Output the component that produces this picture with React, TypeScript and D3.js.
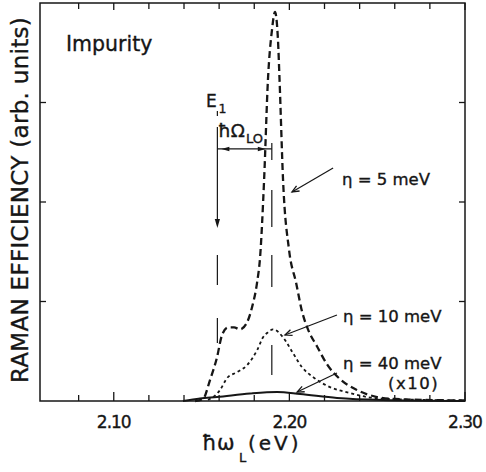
import React from "react";
import * as d3 from "d3";

// ---- data (photon energy in eV, Raman efficiency in arb. units) ----
const eta5X = [2.1463, 2.1508, 2.1548, 2.1588, 2.1616, 2.1651, 2.1685, 2.1719, 2.1759, 2.1787, 2.1816, 2.1833, 2.1856, 2.1878, 2.1901, 2.1918, 2.1935, 2.1944, 2.1964, 2.1998, 2.2038, 2.2072, 2.2106, 2.2157, 2.2214, 2.2288, 2.2385, 2.2499, 2.2602, 2.30];
const eta5Y = [0.0, 0.02, 0.21, 0.44, 0.66, 0.74, 0.74, 0.72, 0.79, 0.94, 1.19, 1.44, 2.22, 3.23, 3.73, 3.91, 3.63, 3.23, 2.22, 1.52, 1.19, 0.9, 0.72, 0.55, 0.37, 0.22, 0.11, 0.04, 0.02, 0.005];

const eta10X = [2.1537, 2.1605, 2.1645, 2.1702, 2.1759, 2.1816, 2.185, 2.1878, 2.1907, 2.1964, 2.2021, 2.2072, 2.2135, 2.2231, 2.2345, 2.2442, 2.2573, 2.30];
const eta10Y = [0.01, 0.11, 0.23, 0.29, 0.36, 0.51, 0.64, 0.69, 0.72, 0.64, 0.48, 0.34, 0.24, 0.14, 0.08, 0.04, 0.02, 0.005];

const eta40X = [2.1394, 2.1491, 2.1588, 2.1776, 2.193, 2.2061, 2.2271, 2.2533, 2.30];
const eta40Y = [0.0, 0.025, 0.04, 0.075, 0.09, 0.07, 0.03, 0.01, 0.0];

const xMinorTicks = [2.08, 2.12, 2.14, 2.16, 2.18, 2.22, 2.24, 2.26, 2.28];
const xMajorTicks = [2.1, 2.2, 2.3];
const xTickLabels = ["2.10", "2.20", "2.30"];
const yTicks = [1, 2, 3];

const E1 = 2.159;
const E1_LO = 2.19;
const e1Arrow = [2.754, 1.739];
const e1Dash = [2.915, 2.864];
const e1Segments = [[1.467, 1.166], [0.834, 0.583]];
const loSegments = [[2.593, 2.422], [2.121, 1.749], [1.467, 1.146], [0.563, 0.261]];
const loArrowY = 2.533;

// pointer lines: [xText, yText, xCurve, yCurve]
const pointers = [
  [2.2249, 2.342, 2.2015, 2.101],
  [2.2271, 0.864, 2.1975, 0.663],
  [2.2271, 0.281, 2.2044, 0.09],
];

const W = 486;
const H = 472;

export default function App() {
  const x = d3.scaleLinear().domain([2.058, 2.3]).range([40, 465]);
  const y = d3.scaleLinear().domain([0, 4]).range([401, 3]);
  const line = d3
    .line<[number, number]>()
    .x((d) => x(d[0]))
    .y((d) => y(d[1]))
    .curve(d3.curveMonotoneX);
  const zip = (a: number[], b: number[]) => a.map((v, i) => [v, b[i]] as [number, number]);

  const ink = "#161616";
  const font = "DejaVu Sans, sans-serif";
  const ts = { fill: ink, stroke: ink, strokeWidth: 0.35 } as const;

  const arrowHead = (x1: number, y1: number, x2: number, y2: number, len = 7, half = 2.6, filled = true) => {
    const ang = Math.atan2(y2 - y1, x2 - x1);
    const bx = x2 - len * Math.cos(ang);
    const by = y2 - len * Math.sin(ang);
    const px = -Math.sin(ang) * half;
    const py = Math.cos(ang) * half;
    const pts = `${bx + px},${by + py} ${x2},${y2} ${bx - px},${by - py}`;
    return filled ? (
      <polygon points={pts} fill={ink} />
    ) : (
      <polyline points={pts} fill="none" stroke={ink} strokeWidth={1.3} />
    );
  };

  return (
    <svg
      width={W}
      height={H}
      style={{ position: "fixed", left: 0, top: 0, background: "#fff" }}
      fontFamily={font}
    >
      <rect x={0} y={0} width={W} height={H} fill="#fff" />
      {/* frame */}
      <rect x={40} y={3} width={425} height={398} fill="none" stroke={ink} strokeWidth={1.5} />
      {/* x ticks bottom & top */}
      {xMinorTicks.map((t) => (
        <g key={"mn" + t}>
          <line x1={x(t)} x2={x(t)} y1={401} y2={395} stroke={ink} strokeWidth={1.3} />
          <line x1={x(t)} x2={x(t)} y1={3} y2={9} stroke={ink} strokeWidth={1.3} />
        </g>
      ))}
      {xMajorTicks.map((t, i) => (
        <g key={"mj" + t}>
          <line x1={x(t)} x2={x(t)} y1={401} y2={392} stroke={ink} strokeWidth={1.3} />
          <line x1={x(t)} x2={x(t)} y1={3} y2={10} stroke={ink} strokeWidth={1.3} />
          <text x={x(t)} y={428} textAnchor="middle" fontSize={17} letterSpacing={-1} {...ts}>
            {xTickLabels[i]}
          </text>
        </g>
      ))}
      {yTicks.map((t) => (
        <g key={"y" + t}>
          <line x1={40} x2={46} y1={y(t)} y2={y(t)} stroke={ink} strokeWidth={1.3} />
          <line x1={465} x2={459} y1={y(t)} y2={y(t)} stroke={ink} strokeWidth={1.3} />
        </g>
      ))}

      {/* E1 marker */}
      <line x1={x(E1)} x2={x(E1)} y1={y(e1Dash[0])} y2={y(e1Dash[1])} stroke={ink} strokeWidth={1.2} />
      <line x1={x(E1)} x2={x(E1)} y1={y(e1Arrow[0])} y2={y(e1Arrow[1]) - 6} stroke={ink} strokeWidth={1.2} />
      {arrowHead(x(E1), y(e1Arrow[0]), x(E1), y(e1Arrow[1]), 9, 2.6)}
      {e1Segments.map((s, i) => (
        <line key={"e1s" + i} x1={x(E1)} x2={x(E1)} y1={y(s[0])} y2={y(s[1])} stroke={ink} strokeWidth={1.2} />
      ))}
      {/* E1 + LO marker */}
      {loSegments.map((s, i) => (
        <line key={"los" + i} x1={x(E1_LO)} x2={x(E1_LO)} y1={y(s[0])} y2={y(s[1])} stroke={ink} strokeWidth={1.2} />
      ))}
      {/* hbar Omega_LO double arrow */}
      <line x1={x(E1)} x2={x(E1_LO)} y1={y(loArrowY)} y2={y(loArrowY)} stroke={ink} strokeWidth={1.2} />
      {arrowHead(x(E1) + 12, y(loArrowY), x(E1) + 4, y(loArrowY), 8, 2.2)}
      {arrowHead(x(E1_LO) - 14, y(loArrowY), x(E1_LO) - 6, y(loArrowY), 8, 2.2)}

      {/* curves */}
      <path d={line(zip(eta40X, eta40Y)) || ""} fill="none" stroke={ink} strokeWidth={2} />
      <path d={line(zip(eta10X, eta10Y)) || ""} fill="none" stroke={ink} strokeWidth={1.8} strokeDasharray="3,3" />
      <path d={line(zip(eta5X, eta5Y)) || ""} fill="none" stroke={ink} strokeWidth={2.3} strokeDasharray="7,4" />

      {/* pointer lines */}
      {pointers.map((p, i) => {
        const x1 = x(p[0]);
        const y1 = y(p[1]);
        const x2 = x(p[2]);
        const y2 = y(p[3]);
        return (
          <g key={"p" + i}>
            <line x1={x1} y1={y1} x2={x2} y2={y2} stroke={ink} strokeWidth={1.2} />
            {arrowHead(x1, y1, x2, y2, 7, 3, false)}
          </g>
        );
      })}

      {/* labels */}
      <text x={66} y={51} fontSize={20.5} {...ts}>Impurity</text>
      <text x={206} y={107} fontSize={17} {...ts}>E</text>
      <text x={218.5} y={113} fontSize={12.5} {...ts}>1</text>
      <text x={218} y={137} fontSize={18.5} {...ts}>ħΩ</text>
      <text x={246} y={143} fontSize={13} {...ts}>LO</text>

      <text x={342} y={185} fontSize={16.5} {...ts}>η = 5 meV</text>
      <text x={343} y={322} fontSize={16.5} {...ts}>η = 10 meV</text>
      <text x={343} y={369} fontSize={16.5} {...ts}>η = 40 meV</text>
      <text x={388} y={389} fontSize={16.5} letterSpacing={1.5} {...ts}>(x10)</text>

      <text x={202} y={450} fontSize={21} letterSpacing={0.5} {...ts}>ħω</text>
      <text x={239} y={462} fontSize={13} {...ts}>L</text>
      <text x={248} y={450} fontSize={20} letterSpacing={3} {...ts}>(eV)</text>

      <text
        transform="translate(28,200) rotate(-90)"
        textAnchor="middle"
        fontSize={23}
        letterSpacing={0.3}
        {...ts}
      >
        RAMAN  EFFICIENCY  (arb. units)
      </text>
    </svg>
  );
}
